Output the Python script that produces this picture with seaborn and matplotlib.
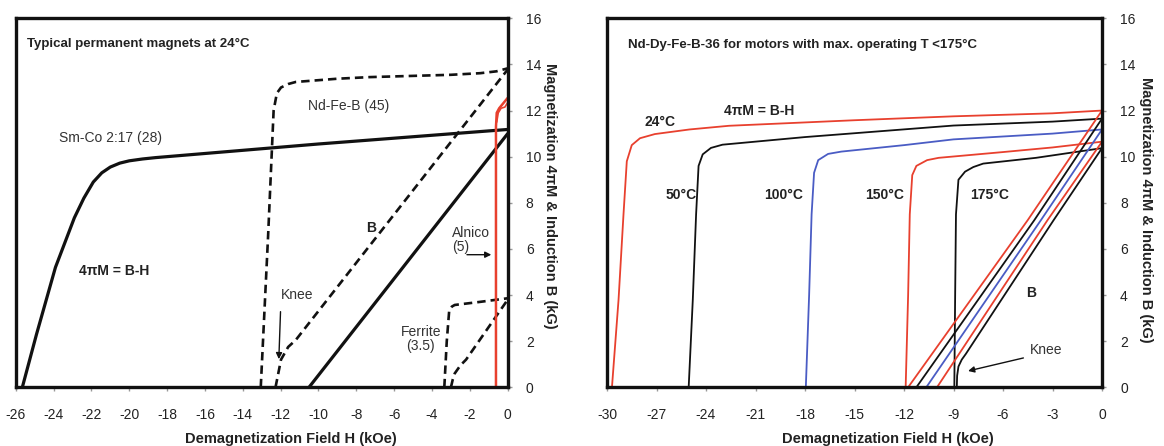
import matplotlib
matplotlib.use("Agg")
import matplotlib.pyplot as plt
import seaborn as sns
import numpy as np

# ---------------- data: left panel (typical magnets at 24 C) ----------------
smco_m_h = [-25.65, -24.9, -23.9, -22.9, -22.4, -21.9, -21.45, -21.0, -20.5, -20.0, -19.3, -18.6, -10.0, 0.0]
smco_m_b = [0.0, 2.3, 5.2, 7.35, 8.2, 8.9, 9.3, 9.55, 9.72, 9.82, 9.9, 9.96, 10.55, 11.18]
smco_b_h = [-10.5, 0.0]
smco_b_b = [0.0, 11.0]

ndfeb_m_h = [-13.05, -12.66, -12.37, -12.2, -11.98, -11.6, -11.2, -9.0, -7.3, -3.0, -1.45, -0.6, 0.0]
ndfeb_m_b = [0.0, 6.6, 12.0, 12.75, 13.0, 13.15, 13.24, 13.38, 13.45, 13.55, 13.62, 13.7, 13.83]
ndfeb_b_h = [-12.27, -12.1, -11.98, -11.6, -11.2, 0.0]
ndfeb_b_b = [0.0, 0.7, 1.2, 1.75, 2.05, 13.78]

ferrite_m_h = [-3.35, -3.22, -3.09, -2.95, -2.8, -1.5, 0.0]
ferrite_m_b = [0.0, 2.0, 3.34, 3.5, 3.57, 3.7, 3.86]
ferrite_b_h = [-3.0, -2.9, -2.8, -2.5, -2.2, 0.0]
ferrite_b_b = [0.0, 0.35, 0.6, 0.95, 1.2, 3.8]

alnico_a_h = [-0.62, -0.62, -0.58, -0.45, -0.25, 0.0]
alnico_a_b = [0.0, 11.3, 11.9, 12.1, 12.3, 12.55]
alnico_b_h = [-0.58, -0.5, -0.35, -0.15, 0.0]
alnico_b_b = [11.5, 11.9, 12.1, 12.15, 12.35]

left_xticks = list(range(-26, 1, 2))
yticks = list(range(0, 17, 2))

# ---------------- data: right panel (Nd-Dy-Fe-B-36 vs temperature) ----------------
m24_h = [-29.7, -29.3, -29.0, -28.8, -28.5, -28.0, -27.1, -25.0, -22.6, -15.0, -9.0, -3.0, 0.0]
m24_b = [0.0, 3.8, 7.5, 9.8, 10.5, 10.8, 10.98, 11.18, 11.34, 11.58, 11.75, 11.88, 12.0]
m50_h = [-25.05, -24.8, -24.6, -24.45, -24.2, -23.7, -23.0, -18.0, -9.0, -3.0, 0.0]
m50_b = [0.0, 3.8, 7.5, 9.6, 10.1, 10.38, 10.52, 10.85, 11.35, 11.52, 11.65]
m100_h = [-17.95, -17.75, -17.6, -17.45, -17.2, -16.6, -15.8, -12.0, -9.0, -3.0, 0.0]
m100_b = [0.0, 4.0, 7.5, 9.3, 9.85, 10.12, 10.22, 10.5, 10.75, 11.0, 11.18]
m150_h = [-11.9, -11.75, -11.65, -11.5, -11.25, -10.6, -9.9, -6.0, -3.0, 0.0]
m150_b = [0.0, 4.0, 7.5, 9.2, 9.6, 9.85, 9.95, 10.2, 10.4, 10.65]
m175_h = [-8.95, -8.9, -8.85, -8.7, -8.3, -7.8, -7.2, -4.0, 0.0]
m175_b = [0.0, 4.0, 7.5, 9.0, 9.35, 9.55, 9.7, 9.95, 10.37]

b24_h = [-11.75, -4.5, 0.0]
b24_b = [0.0, 7.25, 12.0]
b50_h = [-11.25, -4.1, 0.0]
b50_b = [0.0, 7.25, 11.65]
b100_h = [-10.65, -3.7, 0.0]
b100_b = [0.0, 7.25, 11.18]
b150_h = [-10.0, -3.3, 0.0]
b150_b = [0.0, 7.25, 10.65]
b175_h = [-8.8, -8.78, -8.7, -8.5, -8.25, -2.93, 0.0]
b175_b = [0.0, 0.5, 0.9, 1.2, 1.45, 7.25, 10.37]

right_xticks = list(range(-30, 1, 3))
temp_labels = ["24°C", "50°C", "100°C", "150°C", "175°C"]

# ---------------- styling ----------------
sns.set_theme(style="white")
plt.rcParams['font.family'] = ['Liberation Sans', 'DejaVu Sans']
plt.rcParams['axes.unicode_minus'] = False

RED = "#e8402e"
BLUE = "#4a5cc4"
BLACK = "#111111"
TXT = "#222222"

fig = plt.figure(figsize=(11.64, 4.46), dpi=100)
ax1 = fig.add_axes([15.7 / 1164, 58.7 / 446, 492 / 1164, 369 / 446])
ax2 = fig.add_axes([607 / 1164, 58.7 / 446, 495 / 1164, 369 / 446])

DASH = (0, (3.2, 1.9))


def line(ax, h, b, color, lw, ls='-'):
    sns.lineplot(x=h, y=b, ax=ax, sort=False, estimator=None, color=color,
                 linewidth=lw, linestyle=ls, legend=False)


# left panel curves
line(ax1, smco_m_h, smco_m_b, BLACK, 2.3)
line(ax1, smco_b_h, smco_b_b, BLACK, 2.3)
line(ax1, ndfeb_m_h, ndfeb_m_b, BLACK, 1.9, DASH)
line(ax1, ndfeb_b_h, ndfeb_b_b, BLACK, 1.9, DASH)
line(ax1, ferrite_m_h, ferrite_m_b, BLACK, 1.9, DASH)
line(ax1, ferrite_b_h, ferrite_b_b, BLACK, 1.9, DASH)
line(ax1, alnico_a_h, alnico_a_b, RED, 1.8)
line(ax1, alnico_b_h, alnico_b_b, RED, 1.2)

# right panel curves
m_curves = [(m24_h, m24_b, RED), (m50_h, m50_b, BLACK), (m100_h, m100_b, BLUE),
            (m150_h, m150_b, RED), (m175_h, m175_b, BLACK)]
b_curves = [(b24_h, b24_b, RED), (b50_h, b50_b, BLACK), (b100_h, b100_b, BLUE),
            (b150_h, b150_b, RED), (b175_h, b175_b, BLACK)]
for h, b, c in m_curves + b_curves:
    line(ax2, h, b, c, 1.3)

# axes formatting
for ax, xt, xmin in [(ax1, left_xticks, -26), (ax2, right_xticks, -30)]:
    ax.set_xlim(xmin, 0)
    ax.set_ylim(0, 16)
    ax.set_xticks(xt)
    ax.set_yticks(yticks)
    ax.yaxis.tick_right()
    ax.tick_params(axis='x', direction='out', length=3, width=1, color='#999999',
                   pad=12, labelsize=10, labelcolor=TXT, bottom=True)
    ax.tick_params(axis='y', direction='out', length=3, width=1, color='#999999',
                   pad=10, labelsize=10, labelcolor=TXT, right=True, left=False)
    for s in ax.spines.values():
        s.set_linewidth(2.4)
        s.set_color(BLACK)
        s.set_visible(True)
    ax.set_xlabel("Demagnetization Field H (kOe)", fontsize=10.5, fontweight='bold', color=TXT,
                  va='center')
    ax.set_ylabel("Magnetization 4πM & Induction B (kG)", fontsize=10.5, fontweight='bold',
                  color=TXT, rotation=270, va='center', ha='center')
    ax.grid(False)

ax1.xaxis.set_label_coords(0.56, -0.14)
ax2.xaxis.set_label_coords(0.567, -0.14)
ax1.yaxis.set_label_position('right')
ax2.yaxis.set_label_position('right')
ax1.yaxis.set_label_coords(1.10, 0.52)
ax2.yaxis.set_label_coords(1.103, 0.48)

# left annotations
ax1.text(-25.4, 14.9, "Typical permanent magnets at 24°C", fontsize=9.5, fontweight='bold',
         color=TXT, va='center', ha='left')
ax1.text(-8.4, 12.2, "Nd-Fe-B (45)", fontsize=10, color='#333333', ha='center', va='center')
ax1.text(-21.0, 10.8, "Sm-Co 2:17 (28)", fontsize=10, color='#333333', ha='center', va='center')
ax1.text(-20.8, 5.06, "4πM = B-H", fontsize=10, fontweight='bold', color=TXT, ha='center', va='center')
ax1.text(-7.2, 6.9, "B", fontsize=10, fontweight='bold', color=TXT, ha='center', va='center')
ax1.text(-2.95, 6.4, "Alnico\n(5)", fontsize=10, color='#333333', ha='left', va='center',
         linespacing=1.0)
ax1.annotate("", xy=(-0.72, 5.75), xytext=(-2.3, 5.75),
             arrowprops=dict(arrowstyle='-|>', color=BLACK, lw=1, mutation_scale=9))
ax1.text(-11.15, 4.0, "Knee", fontsize=10, color='#333333', ha='center', va='center')
ax1.annotate("", xy=(-12.1, 1.1), xytext=(-12.0, 3.4),
             arrowprops=dict(arrowstyle='-|>', color=BLACK, lw=1, mutation_scale=9))
ax1.text(-4.6, 2.1, "Ferrite\n(3.5)", fontsize=10, color='#333333', ha='center', va='center',
         linespacing=1.0)

# right annotations
ax2.text(-28.7, 14.85, "Nd-Dy-Fe-B-36 for motors with max. operating T <175°C", fontsize=9.5,
         fontweight='bold', color=TXT, ha='left', va='center')
ax2.text(-20.8, 12.0, "4πM = B-H", fontsize=10, fontweight='bold', color=TXT, ha='center', va='center')
temp_pos = [(-26.8, 11.5), (-25.5, 8.35), (-19.3, 8.35), (-13.2, 8.35), (-6.8, 8.35)]
for lab, (tx, ty) in zip(temp_labels, temp_pos):
    ax2.text(tx, ty, lab, fontsize=10, fontweight='bold', color=TXT, ha='center', va='center')
ax2.text(-4.3, 4.1, "B", fontsize=10, fontweight='bold', color=TXT, ha='center', va='center')
ax2.text(-3.37, 1.6, "Knee", fontsize=10, color='#333333', ha='center', va='center')
ax2.annotate("", xy=(-8.28, 0.68), xytext=(-4.6, 1.3),
             arrowprops=dict(arrowstyle='-|>', color=BLACK, lw=1, mutation_scale=9))

fig.savefig("out.png", dpi=100)
